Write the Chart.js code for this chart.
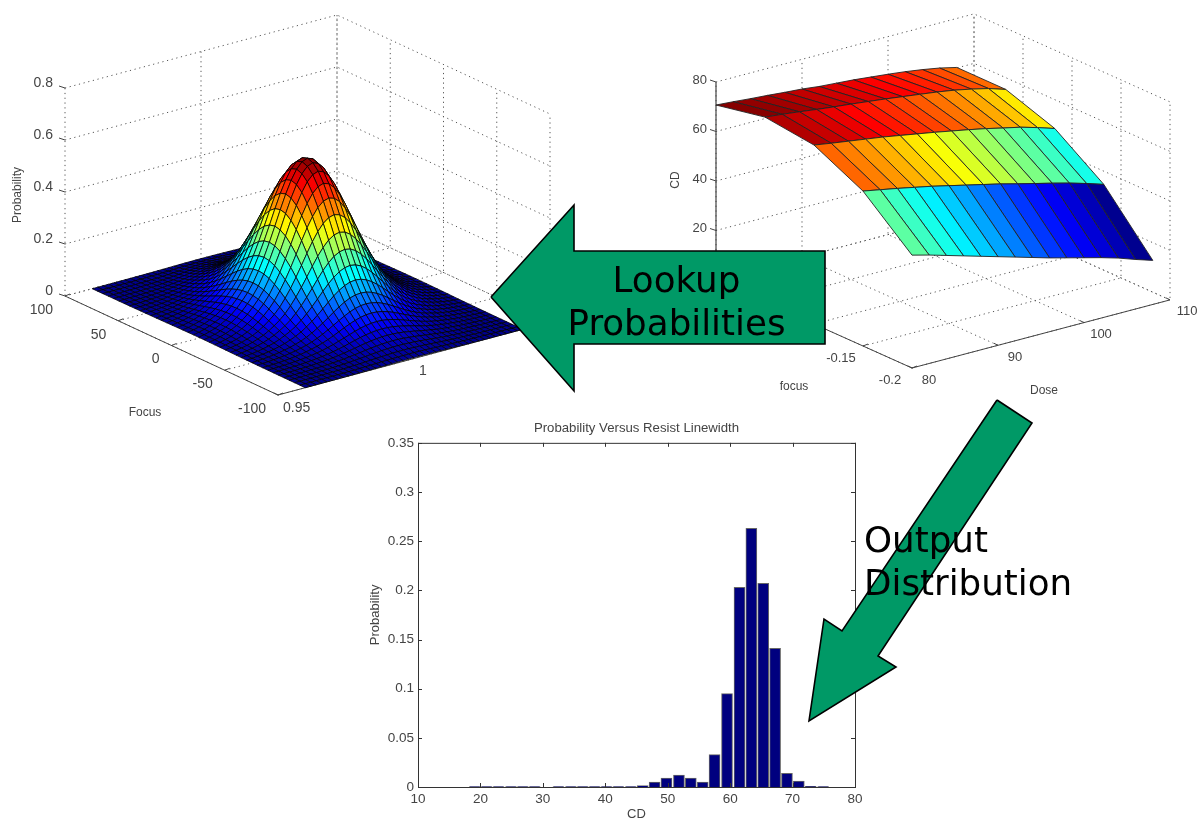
<!DOCTYPE html>
<html>
<head>
<meta charset="utf-8">
<title>Probability Versus Resist Linewidth</title>
<script src="https://cdn.jsdelivr.net/npm/chart.js@4"></script>
<style>
  html, body { margin: 0; padding: 0; background: #fff; overflow: hidden; }
  canvas { position: absolute; left: 0; top: 0; }
</style>
</head>
<body>
<canvas id="barChart" width="1202" height="821"></canvas>
<canvas id="surfaceChart" width="1202" height="821"></canvas>
<script>
// Histogram: bin centres and probability per bin
const cdBins = [19.1, 21, 22.9, 24.9, 26.8, 28.7, 30.6, 32.5, 34.5, 36.4, 38.3, 40.2, 42.1, 44.1, 46, 47.9, 49.8, 51.8, 53.7, 55.6, 57.5, 59.5, 61.5, 63.4, 65.3, 67.2, 69.1, 71, 72.9, 74.9];
const cdProb = [0.0005, 0.0005, 0.0005, 0.0005, 0.0005, 0.0005, 0, 0.0005, 0.0005, 0.0005, 0.0005, 0.0005, 0.0005, 0.0005, 0.0015, 0.005, 0.009, 0.012, 0.009, 0.005, 0.033, 0.095, 0.203, 0.263, 0.207, 0.141, 0.014, 0.006, 0.0006, 0.0005];
const cdTicks = [10, 20, 30, 40, 50, 60, 70, 80];
const probTicks = [0, 0.05, 0.1, 0.15, 0.2, 0.25, 0.3, 0.35];

// Left surface: Probability over Dose / Focus
const bellPeak = 0.58;
const bellDose = [0.96, 0.962, 0.964, 0.966, 0.968, 0.97, 0.972, 0.974, 0.976, 0.978, 0.98, 0.982, 0.984, 0.986, 0.988, 0.99, 0.992, 0.994, 0.996, 0.998, 1, 1.002, 1.004, 1.006, 1.008, 1.01, 1.012, 1.014, 1.016, 1.018, 1.02, 1.022, 1.024, 1.026, 1.028, 1.03, 1.032, 1.034, 1.036, 1.038, 1.04];
const bellFocus = [100, 95, 90, 85, 80, 75, 70, 65, 60, 55, 50, 45, 40, 35, 30, 25, 20, 15, 10, 5, 0, -5, -10, -15, -20, -25, -30, -35, -40, -45, -50, -55, -60, -65, -70, -75, -80, -85, -90, -95, -100];
const doseShape = [0.006, 0.013, 0.023, 0.036, 0.052, 0.072, 0.098, 0.13, 0.17, 0.215, 0.27, 0.34, 0.42, 0.51, 0.607, 0.707, 0.801, 0.882, 0.946, 0.986, 1, 0.986, 0.946, 0.882, 0.801, 0.707, 0.607, 0.51, 0.42, 0.34, 0.27, 0.215, 0.17, 0.13, 0.098, 0.072, 0.052, 0.036, 0.023, 0.013, 0.006];
const focusShape = [0.006, 0.013, 0.023, 0.036, 0.052, 0.072, 0.098, 0.13, 0.17, 0.215, 0.27, 0.34, 0.42, 0.51, 0.607, 0.707, 0.801, 0.882, 0.946, 0.986, 1, 0.986, 0.946, 0.882, 0.801, 0.707, 0.607, 0.51, 0.42, 0.34, 0.27, 0.215, 0.17, 0.13, 0.098, 0.072, 0.052, 0.036, 0.023, 0.013, 0.006];
const probZTicks = [0, 0.2, 0.4, 0.6, 0.8];
const probDoseTicks = [0.95, 1, 1.05];
const probFocusTicks = [100, 50, 0, -50, -100];

// Right surface: CD over Dose / focus
const cdDose = [80, 82, 84, 86, 88, 90, 92, 94, 96, 98, 100, 102, 104, 106, 108];
const cdFocus = [0, -0.05, -0.1, -0.15, -0.2];
const cdFocus0 = [70.7, 70.2, 69.6, 69.1, 68.5, 68, 67.2, 66.7, 66.2, 65.5, 64.8, 64, 63, 61.8, 60.2];
const cdFocus05 = [74.7, 74, 73.2, 72.3, 71.5, 70.8, 70, 69.2, 68.3, 67.4, 66.5, 65.4, 64, 62.4, 60.2];
const cdFocus10 = [72.3, 71.2, 70.2, 69.2, 68.2, 67, 65.8, 64.6, 63.3, 62, 60.6, 59, 57.5, 55.5, 53.3];
const cdFocus15 = [62.6, 61.3, 60, 58.6, 57.2, 55.6, 54, 52.4, 50.8, 49, 47.3, 45.6, 43.8, 41.8, 39.6];
const cdFocus20 = [45.6, 43.8, 41.8, 39.8, 37.8, 35.8, 33.8, 31.8, 29.8, 28, 26.2, 24.4, 22.4, 20, 17.8];
const cdRows = [cdFocus0, cdFocus05, cdFocus10, cdFocus15, cdFocus20];
const cdZTicks = [0, 20, 40, 60, 80];
const cdDoseTicks = [80, 90, 100, 110];
const cdFocusTicks = [0, -0.05, -0.1, -0.15, -0.2];
const cdColorMin = 20;
const cdColorMax = 75;

const textColor = '#444';
const sans = '"Liberation Sans", Arial, sans-serif';

// jet colormap
const jetStops = [[0, [0, 0, 143]], [0.125, [0, 0, 255]], [0.375, [0, 255, 255]], [0.625, [255, 255, 0]], [0.875, [255, 0, 0]], [1, [128, 0, 0]]];
function jet(t) {
    t = Math.min(1, Math.max(0, t));
    for (let i = 1; i < jetStops.length; i++) {
        if (t <= jetStops[i][0]) {
            const a = jetStops[i - 1], b = jetStops[i];
            const k = (t - a[0]) / (b[0] - a[0]);
            const c = a[1].map((v, j) => Math.round(v + (b[1][j] - v) * k));
            return `rgb(${c[0]},${c[1]},${c[2]})`;
        }
    }
    return 'rgb(128,0,0)';
}

// 3D views: front floor corner, then screen vectors per unit of each axis
const probView = { x0: 278, y0: 395, dose0: 0.95, focus0: -100, dx: 2720, dy: -730, fx: -1.065, fy: -0.495, zy: -260, z0: 0 };
const cdView = { x0: 912, y0: 368, dose0: 80, focus0: -0.2, dx: 8.6, dy: -2.27, fx: -980, fy: -440, zy: -2.475, z0: 0 };
function project(v, dose, focus, z) {
    return {
        x: v.x0 + (dose - v.dose0) * v.dx + (focus - v.focus0) * v.fx,
        y: v.y0 + (dose - v.dose0) * v.dy + (focus - v.focus0) * v.fy + (z - v.z0) * v.zy
    };
}

// datasets are pushed back to front and reversed at the end
const layers = [];
function addLine(points, color, width, dash) {
    layers.push({ data: points, showLine: true, borderColor: color, borderWidth: width, borderDash: dash || [], pointRadius: 0, tension: 0, fill: false });
}
function addPoly(points, fillColor, lineColor, width) {
    layers.push({ data: points.concat([points[0]]), showLine: true, polyFill: fillColor, borderColor: lineColor, borderWidth: width, pointRadius: 0, tension: 0, fill: false });
}

function addBox(v, doseTicks, focusTicks, zTicks, solidZ) {
    const dotted = [1.2, 3.6];
    const gridColor = '#555';
    const d0 = doseTicks[0], d1 = doseTicks[doseTicks.length - 1];
    const fBack = focusTicks[0], fFront = focusTicks[focusTicks.length - 1];
    const z0 = zTicks[0], z1 = zTicks[zTicks.length - 1];
    zTicks.forEach(z => {
        addLine([project(v, d0, fBack, z), project(v, d1, fBack, z), project(v, d1, fFront, z)], gridColor, 1, dotted);
    });
    doseTicks.forEach(d => {
        addLine([project(v, d, fFront, z0), project(v, d, fBack, z0), project(v, d, fBack, z1)], gridColor, 1, dotted);
    });
    focusTicks.forEach(f => {
        addLine([project(v, d0, f, z0), project(v, d1, f, z0), project(v, d1, f, z1)], gridColor, 1, dotted);
    });
    // solid axes at the front
    addLine([project(v, d0, fBack, z0), project(v, d0, fFront, z0), project(v, d1, fFront, z0)], '#444', 1);
    if (solidZ) addLine([project(v, d0, fBack, z0), project(v, d0, fBack, z1)], '#444', 1.2);
    zTicks.forEach(z => {
        const p = project(v, d0, fBack, z);
        addLine([p, { x: p.x - 6, y: p.y - 2 }], '#444', 1);
    });
    focusTicks.forEach(f => {
        const p = project(v, d0, f, z0);
        addLine([p, { x: p.x + 5, y: p.y - 2 }], '#444', 1);
    });
    doseTicks.forEach(d => {
        const p = project(v, d, fFront, z0);
        addLine([p, { x: p.x - 4, y: p.y - 2 }], '#444', 1);
    });
}

addBox(probView, probDoseTicks, probFocusTicks, probZTicks, false);
addBox(cdView, cdDoseTicks, cdFocusTicks, cdZTicks, true);

// bell surface, back corner first
const nDose = bellDose.length;
function bellZ(i, j) { return bellPeak * focusShape[i] * doseShape[j]; }
for (let i = 0; i < bellFocus.length - 1; i++) {
    for (let j = nDose - 2; j >= 0; j--) {
        const z = (bellZ(i, j) + bellZ(i + 1, j) + bellZ(i, j + 1) + bellZ(i + 1, j + 1)) / 4;
        addPoly([
            project(probView, bellDose[j], bellFocus[i], bellZ(i, j)),
            project(probView, bellDose[j + 1], bellFocus[i], bellZ(i, j + 1)),
            project(probView, bellDose[j + 1], bellFocus[i + 1], bellZ(i + 1, j + 1)),
            project(probView, bellDose[j], bellFocus[i + 1], bellZ(i + 1, j))
        ], jet(z / bellPeak), 'rgba(0,0,0,0.85)', 0.9);
    }
}

// CD surface, coloured by the front row of each strip
for (let i = 0; i < cdFocus.length - 1; i++) {
    for (let j = cdDose.length - 2; j >= 0; j--) {
        addPoly([
            project(cdView, cdDose[j], cdFocus[i], cdRows[i][j]),
            project(cdView, cdDose[j + 1], cdFocus[i], cdRows[i][j + 1]),
            project(cdView, cdDose[j + 1], cdFocus[i + 1], cdRows[i + 1][j + 1]),
            project(cdView, cdDose[j], cdFocus[i + 1], cdRows[i + 1][j])
        ], jet((cdRows[i + 1][j] - cdColorMin) / (cdColorMax - cdColorMin)), '#222', 0.9);
    }
}

// the two green callout arrows
const arrowGreen = '#009966';
addPoly([{ x: 491, y: 297 }, { x: 574, y: 205 }, { x: 574, y: 251 }, { x: 825, y: 251 }, { x: 825, y: 344 }, { x: 574, y: 344 }, { x: 574, y: 391 }], arrowGreen, '#000', 1.6);
addPoly([{ x: 997, y: 400 }, { x: 1032, y: 423 }, { x: 878, y: 656 }, { x: 896, y: 667 }, { x: 809, y: 721 }, { x: 824, y: 619 }, { x: 842, y: 631 }], arrowGreen, '#000', 1.6);

const surfaceData = layers.slice().reverse();

// fills each closed polygon right before its outline is stroked
const polyFillPlugin = {
    id: 'polyFill',
    beforeDatasetDraw(chart, args) {
        const color = chart.data.datasets[args.index].polyFill;
        if (!color) return;
        const pts = args.meta.data;
        const c = chart.ctx;
        c.save();
        c.beginPath();
        pts.forEach((p, i) => i ? c.lineTo(p.x, p.y) : c.moveTo(p.x, p.y));
        c.closePath();
        c.fillStyle = color;
        c.fill();
        c.restore();
    }
};

function drawText(chart, text, x, y, font, align, color, rot, baseline) {
    const c = chart.ctx;
    c.save();
    c.translate(chart.scales.x.getPixelForValue(x), chart.scales.y.getPixelForValue(y));
    if (rot) c.rotate(rot);
    c.font = font;
    c.fillStyle = color || textColor;
    c.textAlign = align || 'center';
    c.textBaseline = baseline || 'middle';
    c.fillText(text, 0, 0);
    c.restore();
}

const panelTextPlugin = {
    id: 'panelText',
    beforeDatasetsDraw(chart) {
        const f14 = '14px ' + sans, f13 = '13px ' + sans, f12 = '12px ' + sans;
        probZTicks.forEach(z => {
            const p = project(probView, 0.95, 100, z);
            drawText(chart, String(z), p.x - 12, p.y - 5, f14, 'right');
        });
        probFocusTicks.forEach(f => {
            const p = project(probView, 0.95, f, 0);
            drawText(chart, String(f), p.x - 12, p.y + 14, f14, 'right');
        });
        ['0.95', '1'].forEach(d => {
            const p = project(probView, Number(d), -100, 0);
            drawText(chart, d, p.x + 5, p.y + 13, f14, 'left');
        });
        drawText(chart, 'Probability', 18, 195, f12, 'center', textColor, -Math.PI / 2);
        drawText(chart, 'Focus', 145, 413, f12);

        [20, 40, 60, 80].forEach(z => {
            const p = project(cdView, 80, 0, z);
            drawText(chart, String(z), p.x - 9, p.y - 2, f13, 'right');
        });
        cdDoseTicks.forEach(d => {
            const p = project(cdView, d, -0.2, 0);
            drawText(chart, String(d), p.x + 17, p.y + 12, f13);
        });
        [-0.15, -0.2].forEach(f => {
            const p = project(cdView, 80, f, 0);
            drawText(chart, String(f), p.x - 22, p.y + 12, f13);
        });
        drawText(chart, 'CD', 676, 180, f12, 'center', textColor, -Math.PI / 2);
        drawText(chart, 'focus', 794, 387, f12);
        drawText(chart, 'Dose', 1044, 391, f12);
    },
    afterDatasetsDraw(chart) {
        const big = '35.7px "DejaVu Sans", sans-serif';
        drawText(chart, 'Lookup', 676.5, 292, big, 'center', '#000', 0, 'alphabetic');
        drawText(chart, 'Probabilities', 676.5, 335, big, 'center', '#000', 0, 'alphabetic');
        drawText(chart, 'Output', 864, 552, big, 'left', '#000', 0, 'alphabetic');
        drawText(chart, 'Distribution', 864, 595, big, 'left', '#000', 0, 'alphabetic');
    }
};

new Chart(document.getElementById('surfaceChart').getContext('2d'), {
    type: 'scatter',
    data: { datasets: surfaceData },
    options: {
        responsive: false,
        animation: false,
        events: [],
        layout: { padding: 0 },
        plugins: { legend: { display: false }, tooltip: { enabled: false } },
        scales: {
            x: { type: 'linear', display: false, min: 0, max: 1202 },
            y: { type: 'linear', display: false, min: 0, max: 821, reverse: true }
        }
    },
    plugins: [polyFillPlugin, panelTextPlugin]
});

// box and inward ticks for the histogram axes
const boxPlugin = {
    id: 'matlabBox',
    afterDatasetsDraw(chart) {
        const { left, right, top, bottom } = chart.chartArea;
        const c = chart.ctx;
        c.save();
        c.strokeStyle = '#333';
        c.lineWidth = 1;
        c.strokeRect(left + 0.5, top + 0.5, right - left, bottom - top);
        c.beginPath();
        chart.scales.x.ticks.forEach(t => {
            const px = Math.round(chart.scales.x.getPixelForValue(t.value)) + 0.5;
            c.moveTo(px, bottom); c.lineTo(px, bottom - 4);
            c.moveTo(px, top); c.lineTo(px, top + 4);
        });
        chart.scales.y.ticks.forEach(t => {
            const py = Math.round(chart.scales.y.getPixelForValue(t.value)) + 0.5;
            c.moveTo(left, py); c.lineTo(left + 4, py);
            c.moveTo(right, py); c.lineTo(right - 4, py);
        });
        c.stroke();
        c.restore();
    }
};

new Chart(document.getElementById('barChart').getContext('2d'), {
    type: 'bar',
    data: {
        datasets: [{
            label: 'Probability',
            data: cdBins.map((x, i) => ({ x: x, y: cdProb[i] })),
            backgroundColor: '#00007f',
            borderColor: '#666',
            borderWidth: 1,
            barThickness: 11
        }]
    },
    options: {
        responsive: false,
        animation: false,
        events: [],
        layout: { padding: { left: 368, right: 347, top: 420, bottom: 0 } },
        plugins: {
            legend: { display: false },
            tooltip: { enabled: false },
            title: {
                display: true,
                fullSize: false,
                text: 'Probability Versus Resist Linewidth',
                color: textColor,
                font: { family: sans, size: 13.2, weight: 'normal' },
                padding: { top: 0, bottom: 7 }
            }
        },
        scales: {
            x: {
                type: 'linear',
                offset: false,
                min: 10,
                max: 80,
                afterBuildTicks: s => { s.ticks = cdTicks.map(v => ({ value: v })); },
                afterFit: s => { s.height = 34; },
                grid: { display: false, tickLength: 0 },
                border: { display: false },
                ticks: { color: textColor, font: { family: sans, size: 13.5 }, padding: 4, maxRotation: 0, autoSkip: false },
                title: { display: true, text: 'CD', color: textColor, font: { family: sans, size: 13, lineHeight: 1 }, padding: 0 }
            },
            y: {
                type: 'linear',
                min: 0,
                max: 0.35,
                afterBuildTicks: s => { s.ticks = probTicks.map(v => ({ value: v })); },
                afterFit: s => { s.width = 50; },
                grid: { display: false, tickLength: 0 },
                border: { display: false },
                ticks: { color: textColor, font: { family: sans, size: 13.5 }, padding: 4, autoSkip: false, callback: v => String(v) },
                title: { display: true, text: 'Probability', color: textColor, font: { family: sans, size: 13 }, padding: 0 }
            }
        }
    },
    plugins: [boxPlugin]
});
</script>
</body>
</html>
